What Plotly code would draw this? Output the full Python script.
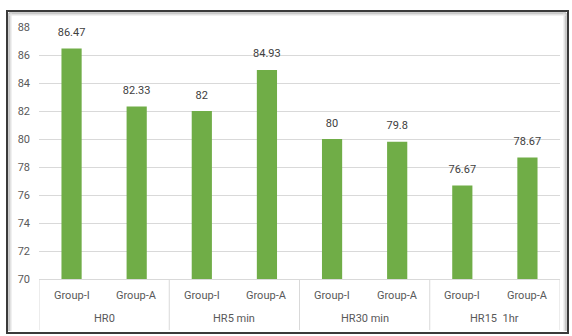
import plotly.graph_objects as go

periods = ["HR0", "HR0", "HR5 min", "HR5 min", "HR30 min", "HR30 min", "HR15  1hr", "HR15  1hr"]
groups = ["Group-I", "Group-A", "Group-I", "Group-A", "Group-I", "Group-A", "Group-I", "Group-A"]
period_names = ["HR0", "HR5 min", "HR30 min", "HR15  1hr"]
values = [86.47, 82.33, 82, 84.93, 80, 79.8, 76.67, 78.67]
labels = ["86.47", "82.33", "82", "84.93", "80", "79.8", "76.67", "78.67"]

W, H = 572, 336
L, R, T, B = 39, 12, 27, 57
pw, ph = W - L - R, H - T - B

def px(x):
    return (x - L) / pw

def py(y):
    return 1 - (y - T) / ph

FONT = "Roboto"
TICKC = "#595959"

fig = go.Figure()
fig.add_trace(go.Bar(
    x=[periods, groups], y=values,
    marker=dict(color="#70ad47", line=dict(width=0)),
    width=0.31, hoverinfo="skip",
))
fig.add_trace(go.Scatter(
    x=[periods, groups], y=values, mode="markers+text",
    marker=dict(size=14, opacity=0),
    text=labels, textposition="top center", cliponaxis=False,
    textfont=dict(family=FONT, size=11, color="#404040"),
))

shapes = []
shapes.append(dict(type="rect", xref="paper", yref="paper",
                   x0=px(7), x1=px(568), y0=py(333), y1=py(11),
                   line=dict(color="#3a3a3a", width=2), fillcolor="rgba(0,0,0,0)", layer="below"))
for k, c in enumerate(["#9a9a9a", "#c4c4c4", "#e2e2e2"]):
    shapes.append(dict(type="line", xref="paper", yref="paper",
                       x0=px(9 + k), x1=px(9 + k), y0=py(331), y1=py(13),
                       line=dict(color=c, width=1), layer="below"))
    shapes.append(dict(type="line", xref="paper", yref="paper",
                       x0=px(9), x1=px(566), y0=py(13 + k), y1=py(13 + k),
                       line=dict(color=c, width=1), layer="below"))
    shapes.append(dict(type="line", xref="paper", yref="paper",
                       x0=px(566 - k), x1=px(566 - k), y0=py(331), y1=py(13),
                       line=dict(color=c, width=1), layer="below"))

# category dividers (between period groups)
n = len(groups)
bounds = [i - 0.5 for i in range(n + 1) if i == 0 or i == n or periods[i] != periods[i - 1]]
for b in bounds:
    shapes.append(dict(type="line", xref="x", yref="paper", x0=b, x1=b,
                       y0=0, y1=py(330), line=dict(color="#d9d9d9", width=1)))

annotations = []
for i, g in enumerate(groups):
    annotations.append(dict(x=i, y=py(295), xref="x", yref="paper", text=g,
                            yanchor="middle", xanchor="center",
                            showarrow=False, font=dict(family=FONT, size=11, color=TICKC)))
for p in period_names:
    idx = [i for i, q in enumerate(periods) if q == p]
    annotations.append(dict(x=sum(idx) / len(idx), y=py(318), xref="x", yref="paper",
                            text=p, yanchor="middle", xanchor="center",
                            showarrow=False, font=dict(family=FONT, size=11, color=TICKC)))

fig.update_layout(
    width=W, height=H,
    margin=dict(l=L, r=R, t=T, b=B),
    paper_bgcolor="white", plot_bgcolor="white",
    showlegend=False,
    bargap=0.69,
    shapes=shapes,
    annotations=annotations,
    font=dict(family=FONT, size=11, color=TICKC),
    yaxis=dict(range=[70, 88], dtick=2, showgrid=True, gridcolor="#d9d9d9", gridwidth=1,
               zeroline=False, showline=False, ticks="", ticklabelstandoff=8,
               tickfont=dict(family=FONT, size=11, color=TICKC)),
    xaxis=dict(showline=True, linecolor="#d9d9d9", linewidth=1, ticks="",
               showticklabels=False, showdividers=False, range=[-0.5, n - 0.5]),
)

fig.write_html("out.html")
